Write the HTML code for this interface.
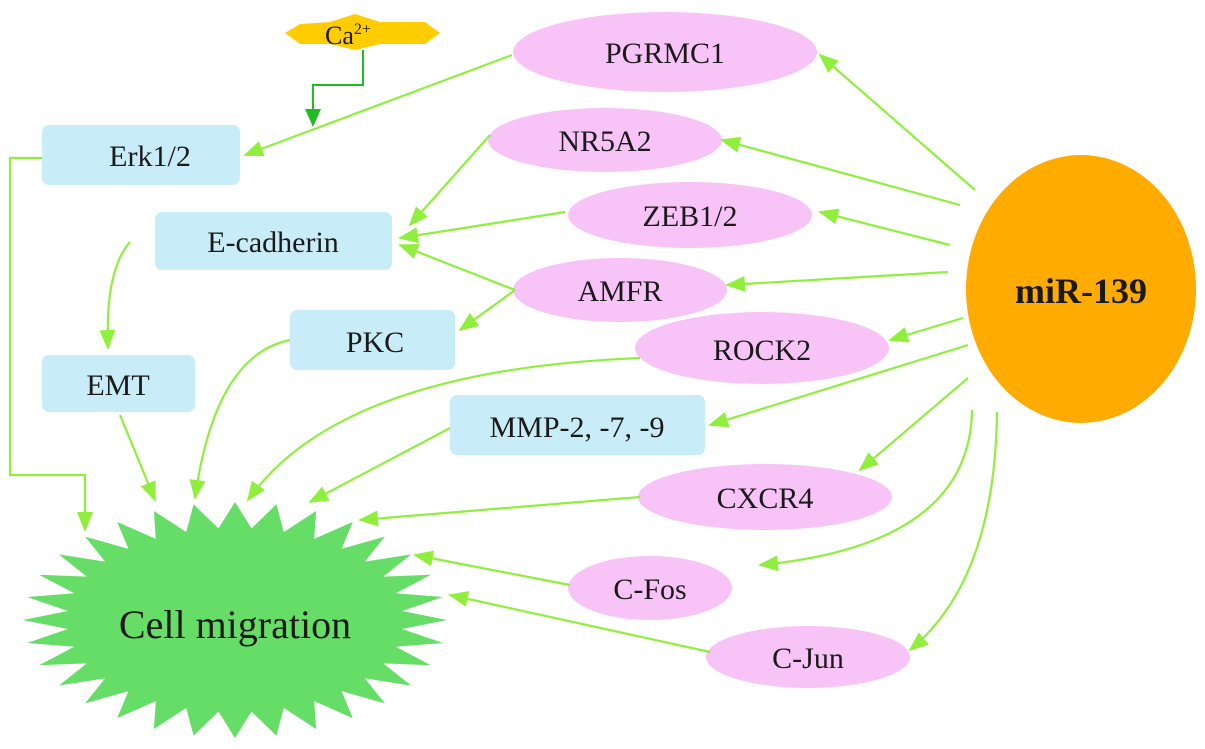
<!DOCTYPE html>
<html><head><meta charset="utf-8"><style>
html,body{margin:0;padding:0;background:#fff;}
svg{display:block;}
text{font-family:"Liberation Serif",serif;fill:#1a1a1a;}
</style></head><body>
<svg id="s" width="1205" height="749" viewBox="0 0 1205 749" xmlns="http://www.w3.org/2000/svg">
<defs>
<marker id="a" markerWidth="20" markerHeight="16" refX="18" refY="8" orient="auto" markerUnits="userSpaceOnUse"><path d="M0,0 L20,8 L0,16 z" fill="#90ee3c"/></marker>
<marker id="d" markerWidth="18" markerHeight="16" refX="16" refY="8" orient="auto" markerUnits="userSpaceOnUse"><path d="M0,0 L18,8 L0,16 z" fill="#22bb22"/></marker>
</defs>
<polygon id="star" fill="#66dd66" points=""/>
<text x="235" y="638" font-size="40" text-anchor="middle">Cell migration</text>

<!-- Ca -->
<polygon points="285,33 300,24 330,22 355,14 380,22 425,22 440,33 425,44 380,44 355,50 330,44 300,44" fill="#ffcc00"/>
<text x="325" y="44" font-size="26">Ca<tspan font-size="16" dy="-10">2+</tspan></text>

<g fill="#f8c4f8">
<ellipse cx="665" cy="52" rx="152" ry="40"/>
<ellipse cx="605" cy="140" rx="117" ry="32"/>
<ellipse cx="690" cy="215" rx="122" ry="33"/>
<ellipse cx="620" cy="290" rx="107" ry="32"/>
<ellipse cx="762" cy="348" rx="127" ry="36"/>
<ellipse cx="765" cy="497" rx="127" ry="33"/>
<ellipse cx="650" cy="588" rx="82" ry="32"/>
<ellipse cx="808" cy="657" rx="102" ry="31"/>
</g>
<g fill="#c9ecf9">
<rect x="42" y="125" width="198" height="60" rx="7"/>
<rect x="155" y="212" width="237" height="58" rx="7"/>
<rect x="290" y="310" width="165" height="60" rx="7"/>
<rect x="42" y="355" width="153" height="57" rx="7"/>
<rect x="450" y="395" width="255" height="60" rx="7"/>
</g>
<ellipse cx="1081" cy="289" rx="115" ry="134" fill="#ffab00"/>

<g font-size="30" text-anchor="middle">
<text x="665" y="63">PGRMC1</text>
<text x="605" y="151">NR5A2</text>
<text x="690" y="226">ZEB1/2</text>
<text x="620" y="301">AMFR</text>
<text x="762" y="360">ROCK2</text>
<text x="765" y="508">CXCR4</text>
<text x="650" y="599">C-Fos</text>
<text x="808" y="668">C-Jun</text>
<text x="150" y="166">Erk1/2</text>
<text x="273" y="252">E-cadherin</text>
<text x="375" y="352">PKC</text>
<text x="118" y="395">EMT</text>
<text x="577" y="437">MMP-2, -7, -9</text>
<text x="1081" y="303" font-weight="bold" font-size="36">miR-139</text>
</g>

<g stroke="#90ee3c" stroke-width="2.2" fill="none" marker-end="url(#a)">
<path d="M512,55 L245,155"/>
<path d="M490,135 L410,225"/>
<path d="M565,212 L400,238"/>
<path d="M515,290 L400,245"/>
<path d="M515,290 L460,330"/>
<path d="M130,242 Q105,270 108,348"/>
<path d="M42,158 L10,158 L10,475 L85,475 L85,530"/>
<path d="M120,415 L155,500"/>
<path d="M290,340 Q215,355 195,498"/>
<path d="M640,358 Q340,370 248,500"/>
<path d="M450,428 L310,502"/>
<path d="M640,497 L360,520"/>
<path d="M570,585 L415,555"/>
<path d="M710,652 L450,595"/>
<path d="M975,190 L820,55"/>
<path d="M960,205 L722,140"/>
<path d="M950,245 L820,212"/>
<path d="M948,272 L727,285"/>
<path d="M963,318 L890,340"/>
<path d="M968,345 L710,425"/>
<path d="M968,378 L860,470"/>
<path d="M972,410 Q970,545 760,565"/>
<path d="M997,412 Q995,580 910,650"/>
</g>
<path d="M363,50 L363,85 L313,85 L313,125" stroke="#22bb22" stroke-width="2" fill="none" marker-end="url(#d)"/>
</svg>
<script>
var p=[],n=32,cx=235,cy=620,R1=212,R2=118,r1=168,r2=92;
for(var i=0;i<2*n;i++){var t=Math.PI*i/n-Math.PI/2;var o=i%2==0;
p.push((cx+(o?R1:r1)*Math.cos(t)).toFixed(1)+","+(cy+(o?R2:r2)*Math.sin(t)).toFixed(1));}
document.getElementById("star").setAttribute("points",p.join(" "));
</script>
</body></html>
